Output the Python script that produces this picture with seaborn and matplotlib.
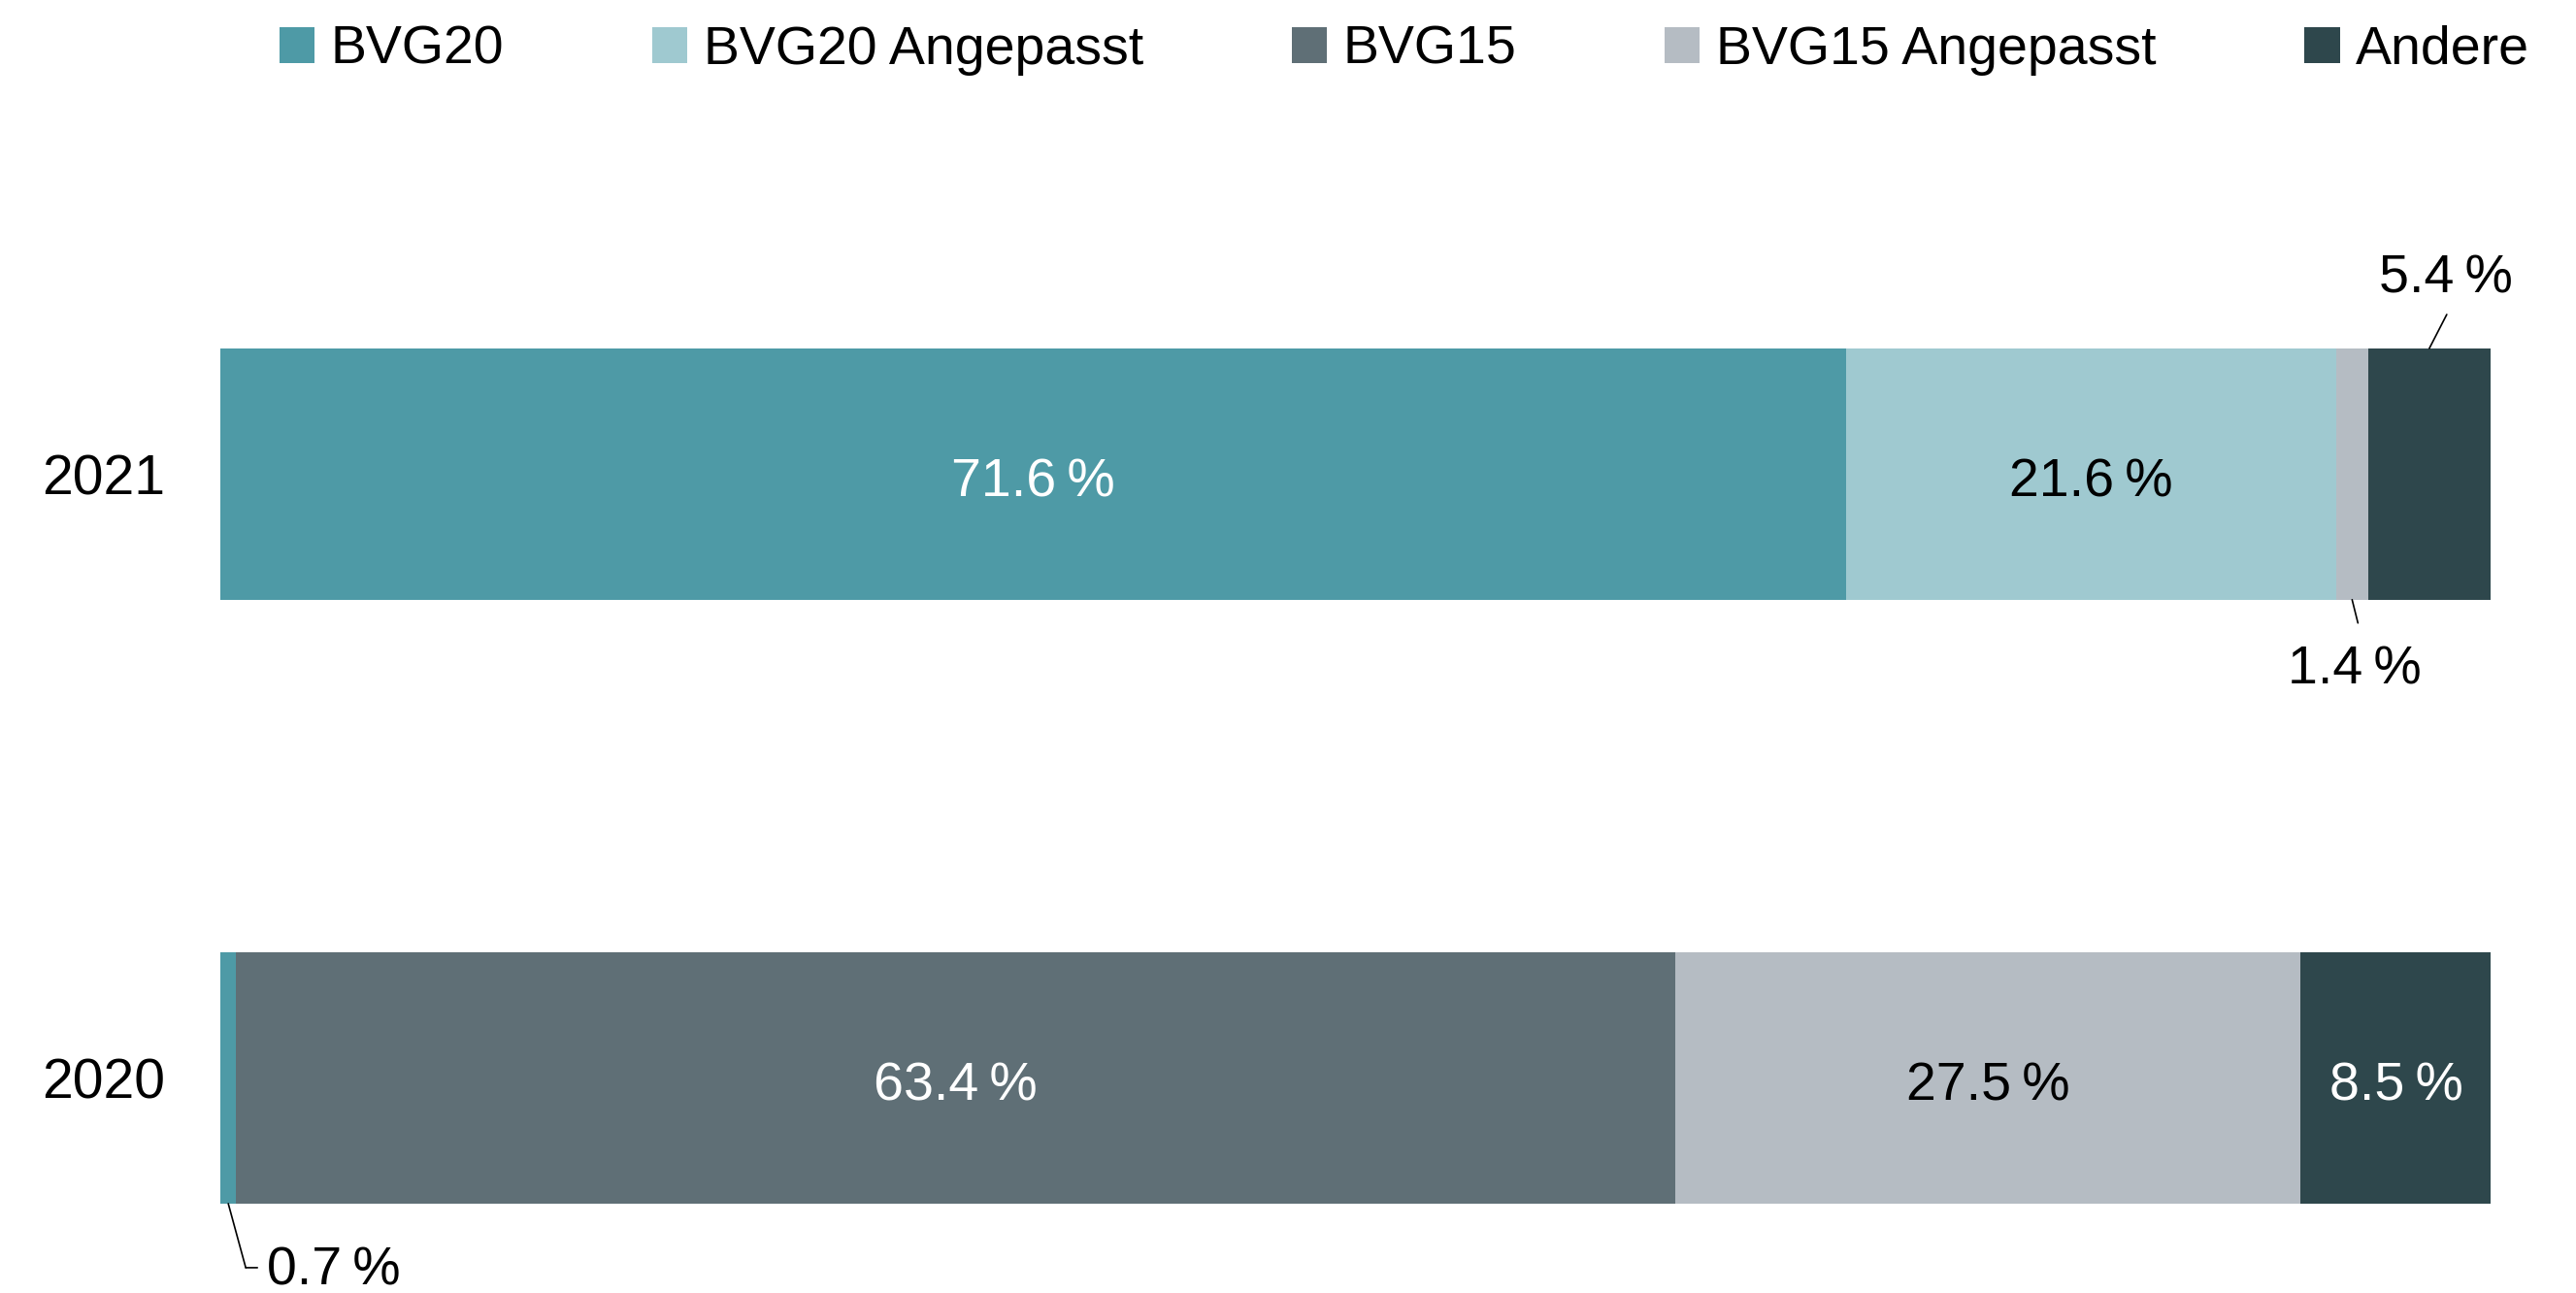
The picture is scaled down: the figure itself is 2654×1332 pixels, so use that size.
import numpy as np
import pandas as pd
import matplotlib.pyplot as plt
import matplotlib.transforms as mtransforms
from matplotlib.patches import Patch
import seaborn as sns

# Daten
years = ['2021', '2020']
series = ['BVG20', 'BVG20 Angepasst', 'BVG15', 'BVG15 Angepasst', 'Andere']
bvg20 = [71.6, 0.7]
bvg20_angepasst = [21.6, 0.0]
bvg15 = [0.0, 63.4]
bvg15_angepasst = [1.4, 27.5]
andere = [5.4, 8.5]

colors = ['#4E9AA6', '#9FC9D0', '#5F6F76', '#B5BCC3', '#2E474C']
text_colors = ['white', 'black', 'white', 'black', 'white']

sns.set_style('white')
plt.rcParams['font.family'] = ['Liberation Sans', 'DejaVu Sans']
plt.rcParams['text.color'] = 'black'

vals = np.array([bvg20, bvg20_angepasst, bvg15, bvg15_angepasst, andere])
cum = np.cumsum(vals, axis=0)
starts = cum - vals

W, H = 2654, 1332
fig = plt.figure(figsize=(W / 100, H / 100), dpi=100)
ax = fig.add_axes([227 / W, 0, 2339 / W, 1])

bar_h = 0.416
fs = 40
# gestapelte Balken: kumulierte Summen von hinten nach vorne zeichnen
for i in reversed(range(len(series))):
    df = pd.DataFrame({'year': years, 'value': cum[i]})
    sns.barplot(data=df, x='value', y='year', orient='h', color=colors[i],
                saturation=1, width=bar_h, linewidth=0, ax=ax)

ax.set_xlim(0, 100)
ax.set_ylim(1.356, -0.785)
ax.set_xticks([])
ax.set_xlabel('')
ax.set_ylabel('')
ax.tick_params(axis='y', length=0, pad=41, labelsize=41, labelcolor='black')
sns.despine(ax=ax, left=True, bottom=True)

def fmt(v):
    return f'{v:.1f}\u2009%'

# Beschriftungen in den Balken
for j, yr in enumerate(years):
    for i in range(len(series)):
        v = vals[i, j]
        if v >= 8:
            ax.text(starts[i, j] + v / 2, j + 0.005, fmt(v), ha='center', va='center_baseline',
                    color=text_colors[i], fontsize=fs)

line_kw = dict(arrowstyle='-', shrinkA=0, shrinkB=0, lw=1.2, color='black')

# 5.4 % oberhalb
x0 = starts[4, 0] + vals[4, 0] / 2
y0 = 0 - bar_h / 2
ax.annotate('', xy=(x0, y0), xytext=(18, 35), textcoords='offset pixels', arrowprops=line_kw)
ax.annotate(fmt(vals[4, 0]), xy=(x0, y0), xytext=(17, 57), textcoords='offset pixels',
            ha='center', va='baseline', fontsize=fs)

# 1.4 % unterhalb
x0 = starts[3, 0] + vals[3, 0] / 2
y0 = 0 + bar_h / 2
ax.annotate('', xy=(x0, y0), xytext=(6, -24), textcoords='offset pixels', arrowprops=line_kw)
ax.annotate(fmt(vals[3, 0]), xy=(x0, y0), xytext=(3, -87), textcoords='offset pixels',
            ha='center', va='baseline', fontsize=fs)

# 0.7 % unterhalb mit Knick
x0 = starts[0, 1] + vals[0, 1] / 2
y0 = 1 + bar_h / 2
ax.annotate('', xy=(x0, y0), xytext=(18, -66), textcoords='offset pixels', arrowprops=line_kw)
knee = mtransforms.offset_copy(ax.transData, fig=fig, x=18, y=-66, units='dots')
ax.annotate('', xy=(x0, y0), xycoords=knee, xytext=(12, 0), textcoords='offset pixels',
            arrowprops=line_kw)
ax.annotate(fmt(vals[0, 1]), xy=(x0, y0), xytext=(40, -84), textcoords='offset pixels',
            ha='left', va='baseline', fontsize=fs)

# Legende
handles = [Patch(facecolor=c, edgecolor='none', label=s) for s, c in zip(series, colors)]
fig.legend(handles=handles, loc='center left', bbox_to_anchor=(288 / W, 1 - 52 / H),
           ncol=5, frameon=False, fontsize=fs, handlelength=0.65, handleheight=0.65,
           handletextpad=0.3, columnspacing=2.75, borderpad=0, borderaxespad=0)

fig.savefig('out.png', dpi=100)
